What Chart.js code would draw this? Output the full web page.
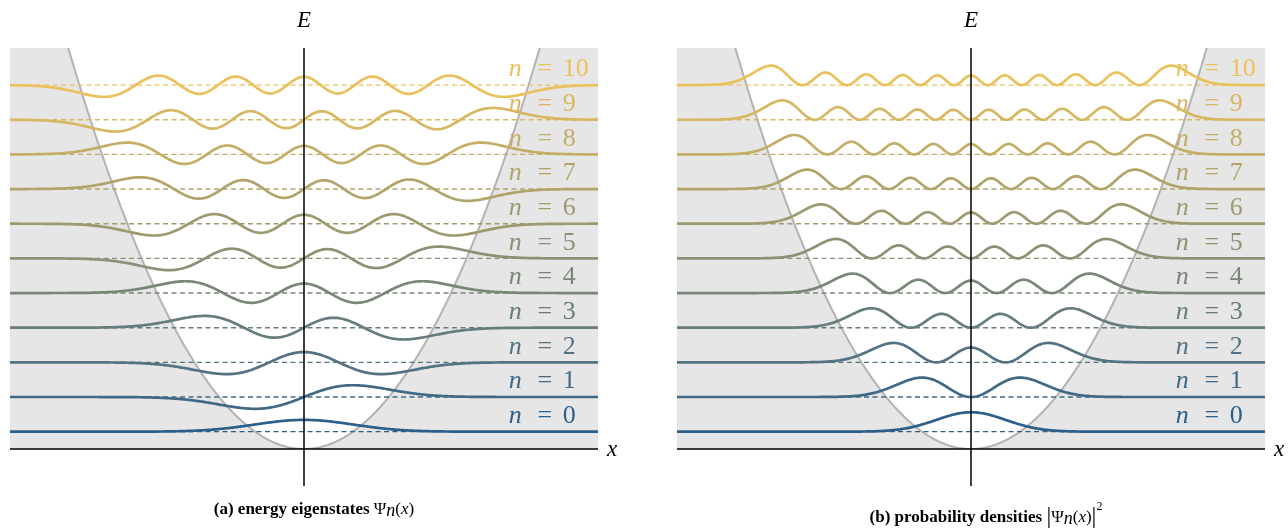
<!DOCTYPE html>
<html>
<head>
<meta charset="utf-8">
<script src="https://cdn.jsdelivr.net/npm/chart.js@4.4.1/dist/chart.umd.min.js"></script>
<style>
  html, body { margin: 0; padding: 0; background: #fff; }
  #wrap { position: relative; width: 1288px; height: 529px; }
  canvas { position: absolute; top: 0; }
</style>
</head>
<body>
<div id="wrap">
  <canvas id="psi" width="644" height="529" style="left:0"></canvas>
  <canvas id="prob" width="644" height="529" style="left:644px"></canvas>
</div>
<script>
// quantum harmonic oscillator, hbar = m = omega = 1
var quantumNumbers = [0, 1, 2, 3, 4, 5, 6, 7, 8, 9, 10];
var levelEnergies = [0.5, 1.5, 2.5, 3.5, 4.5, 5.5, 6.5, 7.5, 8.5, 9.5, 10.5];
var labelEnergies = [1, 2, 3, 4, 5, 6, 7, 8, 9, 10, 11];
var xRange = [-6, 6];
var energyRange = [0, 11.57];
var psiHeight = 0.34;      // max |psi_n| drawn as this many energy units
var densityHeight = 0.56;  // max |psi_n|^2 drawn as this many energy units
var labelX = 4.18;

var levelColors = ['#2d5f8b', '#406986', '#537382', '#667c7d', '#798678', '#8c9074',
                   '#9e9a6f', '#b1a46a', '#c4ad66', '#d7b761', '#eac15c'];

// sample grid on the x axis
var xs = [];
for (var i = 0; i <= 480; i++) xs.push(xRange[0] + (xRange[1] - xRange[0]) * i / 480);

// normalised Hermite functions by recurrence
function hermiteFunctions(x) {
  var out = [Math.pow(Math.PI, -0.25) * Math.exp(-x * x / 2)];
  out.push(Math.SQRT2 * x * out[0]);
  for (var n = 1; n < quantumNumbers.length - 1; n++) {
    out.push(Math.sqrt(2 / (n + 1)) * x * out[n] - Math.sqrt(n / (n + 1)) * out[n - 1]);
  }
  return out;
}
var table = xs.map(hermiteFunctions);

function curve(n, squared, height) {
  var sign = Math.floor(n / 2) % 2 === 0 ? 1 : -1;
  var vals = table.map(function (row) { return squared ? row[n] * row[n] : sign * row[n]; });
  var m = Math.max.apply(null, vals.map(Math.abs));
  return xs.map(function (x, k) { return { x: x, y: levelEnergies[n] + height * vals[k] / m }; });
}

function buildDatasets(squared, height) {
  var sets = [];
  quantumNumbers.forEach(function (n) {
    sets.push({ data: curve(n, squared, height), borderColor: levelColors[n], borderWidth: 2.7,
                pointRadius: 0, tension: 0, order: 0 });
  });
  quantumNumbers.forEach(function (n) {
    sets.push({ data: [{ x: xRange[0], y: levelEnergies[n] }, { x: xRange[1], y: levelEnergies[n] }],
                borderColor: levelColors[n], borderWidth: 1.4, borderDash: [5, 3.5],
                pointRadius: 0, order: 1 });
  });
  // potential V = x^2/2, shaded outside the well
  sets.push({ data: xs.map(function (x) { return { x: x, y: x * x / 2 }; }),
              borderColor: '#b3b3b3', borderWidth: 2, backgroundColor: '#e6e6e6',
              fill: 'start', pointRadius: 0, order: 2 });
  return sets;
}

function drawRuns(ctx, runs, cx, baseY) {
  var total = 0;
  runs.forEach(function (r) { ctx.font = r.f; total += ctx.measureText(r.t).width; });
  var x = cx - total / 2;
  ctx.textAlign = 'left';
  ctx.fillStyle = '#000';
  runs.forEach(function (r) {
    ctx.font = r.f;
    ctx.fillText(r.t, x, baseY + (r.dy || 0));
    x += ctx.measureText(r.t).width;
  });
}

var decor = {
  id: 'decor',
  afterDraw: function (chart, args, opts) {
    var ctx = chart.ctx, a = chart.chartArea, xs_ = chart.scales.x, ys_ = chart.scales.y;
    var x0 = xs_.getPixelForValue(0), y0 = ys_.getPixelForValue(0);
    ctx.save();
    ctx.strokeStyle = '#000';
    ctx.lineWidth = 1.5;
    ctx.beginPath();
    ctx.moveTo(a.left, y0); ctx.lineTo(a.right, y0);
    ctx.moveTo(x0, a.top); ctx.lineTo(x0, y0 + 37);
    ctx.stroke();

    ctx.fillStyle = '#000';
    ctx.font = 'italic 23px "Liberation Serif"';
    ctx.textAlign = 'center';
    ctx.textBaseline = 'alphabetic';
    ctx.fillText('E', x0, 27);
    ctx.fillText('x', a.right + 14, y0 + 7);

    var xl = xs_.getPixelForValue(labelX);
    quantumNumbers.forEach(function (n) {
      var base = ys_.getPixelForValue(labelEnergies[n]) + 8.5;
      ctx.fillStyle = levelColors[n];
      ctx.font = 'italic 26px "Liberation Serif"';
      ctx.textAlign = 'left';
      ctx.fillText('n', xl, base);
      ctx.font = '26px "Liberation Serif"';
      ctx.textAlign = 'center';
      ctx.fillText('=', xl + 36, base);
      ctx.textAlign = 'left';
      ctx.fillText(String(n), xl + 54, base);
    });

    drawRuns(ctx, opts.caption, opts.captionX, opts.captionY);
    ctx.restore();
  }
};

function makeChart(id, squared, height, padRight, padLeft, caption, captionX, captionY) {
  return new Chart(document.getElementById(id).getContext('2d'), {
    type: 'line',
    data: { datasets: buildDatasets(squared, height) },
    options: {
      responsive: false,
      animation: false,
      devicePixelRatio: 1,
      layout: { padding: { left: padLeft, right: padRight, top: 48, bottom: 80 } },
      scales: {
        x: { type: 'linear', min: xRange[0], max: xRange[1], display: false },
        y: { type: 'linear', min: energyRange[0], max: energyRange[1], display: false }
      },
      plugins: {
        legend: { display: false },
        tooltip: { enabled: false },
        decor: { caption: caption, captionX: captionX, captionY: captionY }
      }
    },
    plugins: [decor]
  });
}

var serif = '"Liberation Serif"';
makeChart('psi', false, psiHeight, 46, 10, [
  { t: '(a) energy eigenstates ', f: 'bold 17px ' + serif },
  { t: 'Ψ', f: '17px ' + serif },
  { t: 'n', f: 'italic 18px ' + serif, dy: 2 },
  { t: '(', f: '17px ' + serif },
  { t: 'x', f: 'italic 17px ' + serif },
  { t: ')', f: '17px ' + serif }
], 314, 514);

makeChart('prob', true, densityHeight, 23, 33, [
  { t: '(b) probability densities ', f: 'bold 17px ' + serif },
  { t: '|', f: '24px ' + serif, dy: 1 },
  { t: 'Ψ', f: '17px ' + serif },
  { t: 'n', f: 'italic 18px ' + serif, dy: 2 },
  { t: '(', f: '17px ' + serif },
  { t: 'x', f: 'italic 17px ' + serif },
  { t: ')', f: '17px ' + serif },
  { t: '|', f: '24px ' + serif, dy: 1 },
  { t: '2', f: '12px ' + serif, dy: -12 }
], 342, 522);
</script>
</body>
</html>
